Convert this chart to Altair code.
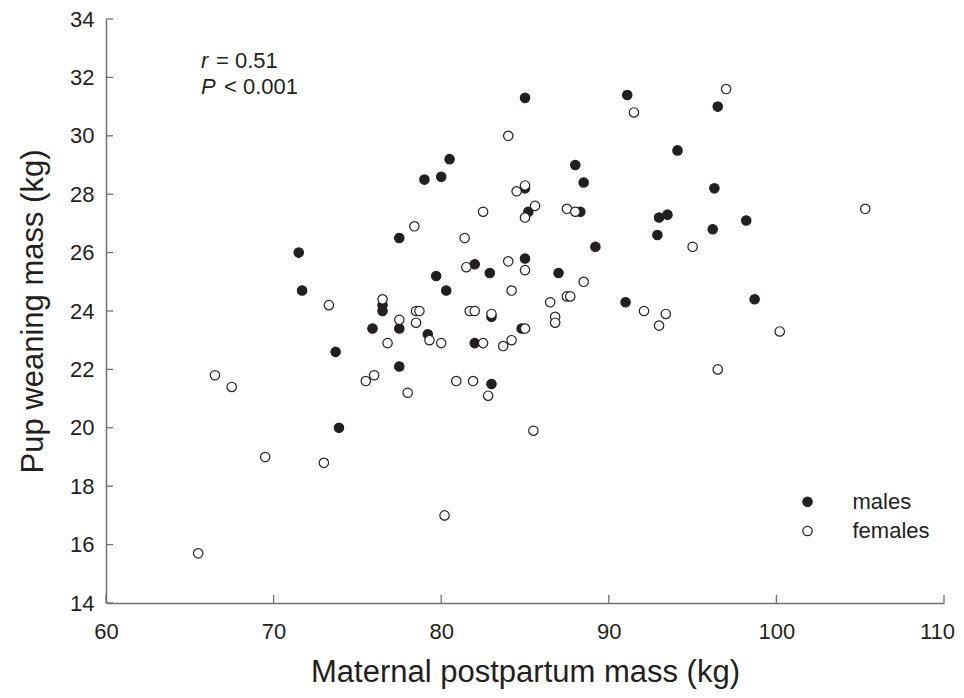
import altair as alt
import pandas as pd

# ---- data ----
males_x = [71.5, 71.7, 73.7, 73.9, 75.9, 76.5, 76.5, 77.5, 77.5, 77.5,
           79.0, 79.2, 79.7, 80.0, 80.3, 80.5, 82.0, 82.0, 82.9, 83.0,
           83.0, 84.8, 85.0, 85.0, 85.2, 85.0, 87.0, 88.0, 88.5, 88.3,
           89.2, 91.0, 91.1, 92.9, 93.0, 93.5, 94.1, 96.2, 96.3, 96.5,
           98.2, 98.7]
males_y = [26.0, 24.7, 22.6, 20.0, 23.4, 24.2, 24.0, 26.5, 23.4, 22.1,
           28.5, 23.2, 25.2, 28.6, 24.7, 29.2, 25.6, 22.9, 25.3, 23.8,
           21.5, 23.4, 31.3, 28.2, 27.4, 25.8, 25.3, 29.0, 28.4, 27.4,
           26.2, 24.3, 31.4, 26.6, 27.2, 27.3, 29.5, 26.8, 28.2, 31.0,
           27.1, 24.4]

females_x = [65.5, 66.5, 67.5, 69.5, 73.0, 73.3, 75.5, 76.0, 76.5, 76.8,
             77.5, 78.0, 78.4, 78.5, 78.7, 78.5, 79.3, 80.0, 80.2, 80.9,
             81.4, 81.5, 81.7, 82.0, 81.9, 82.5, 82.5, 82.8, 83.0, 83.7,
             84.0, 84.0, 84.2, 84.2, 84.5, 85.0, 85.0, 85.0, 85.0, 85.5,
             85.6, 86.5, 86.8, 86.8, 87.5, 87.5, 87.7, 88.0, 88.5, 91.5,
             92.1, 93.0, 93.4, 95.0, 96.5, 97.0, 100.2, 105.3]
females_y = [15.7, 21.8, 21.4, 19.0, 18.8, 24.2, 21.6, 21.8, 24.4, 22.9,
             23.7, 21.2, 26.9, 24.0, 24.0, 23.6, 23.0, 22.9, 17.0, 21.6,
             26.5, 25.5, 24.0, 24.0, 21.6, 27.4, 22.9, 21.1, 23.9, 22.8,
             30.0, 25.7, 24.7, 23.0, 28.1, 28.3, 27.2, 25.4, 23.4, 19.9,
             27.6, 24.3, 23.8, 23.6, 27.5, 24.5, 24.5, 27.4, 25.0, 30.8,
             24.0, 23.5, 23.9, 26.2, 22.0, 31.6, 23.3, 27.5]

groups = ["males", "females"]
x_ticks = [60, 70, 80, 90, 100, 110]
y_ticks = [14, 16, 18, 20, 22, 24, 26, 28, 30, 32, 34]
annot_symbols = ["r", "P"]
annot_values = ["= 0.51", "< 0.001"]

# ---- styling ----
W, H = 838, 584
FONT = "Liberation Sans"
INK = "#231f20"
AXIS = "#707070"

df = pd.DataFrame({
    "x": males_x + females_x,
    "y": males_y + females_y,
    "sex": [groups[0]] * len(males_x) + [groups[1]] * len(females_x),
})

xscale = alt.Scale(domain=[60, 110], nice=False, zero=False)
yscale = alt.Scale(domain=[14, 34], nice=False, zero=False)

xaxis = alt.Axis(
    values=x_ticks, title="Maternal postpartum mass (kg)", tickSize=0,
    labelPadding=18, labelFlush=False, labelOverlap=False,
    labelOffset=alt.condition("datum.value >= 110", alt.value(-7), alt.value(0)),
    titleX=W / 2, titleY=78, titleAlign="center", titleBaseline="alphabetic",
)
yaxis = alt.Axis(
    values=y_ticks, title="Pup weaning mass (kg)", tickSize=0,
    labelPadding=12, labelFlush=False, labelOverlap=False,
    titleX=-64, titleY=H / 2, titleAngle=270, titleAlign="center",
    titleBaseline="alphabetic",
)

points = alt.Chart(df).mark_point(
    shape="circle", filled=True, size=88, strokeWidth=1.2, stroke=INK, opacity=1
).encode(
    x=alt.X("x:Q", scale=xscale, axis=xaxis),
    y=alt.Y("y:Q", scale=yscale, axis=yaxis),
    fill=alt.Fill("sex:N", scale=alt.Scale(domain=groups, range=[INK, "#ffffff"]),
                  legend=alt.Legend(
                      title=None, orient="none", legendX=690.5, legendY=471.7,
                      padding=0, symbolType="circle", symbolSize=88,
                      symbolStrokeColor=INK, symbolStrokeWidth=1.2,
                      labelFont=FONT, labelFontSize=22, labelColor=INK,
                      labelOffset=34, rowPadding=7.3,
                  )),
)

yt = alt.Chart(pd.DataFrame({"y": y_ticks})).mark_rule(color=AXIS, strokeWidth=1.3).encode(
    y=alt.Y("y:Q", scale=yscale, axis=yaxis), x=alt.value(0), x2=alt.value(7)
)
xt = alt.Chart(pd.DataFrame({"x": x_ticks})).mark_rule(color=AXIS, strokeWidth=1.3).encode(
    x=alt.X("x:Q", scale=xscale, axis=xaxis), y=alt.value(H), y2=alt.value(H - 8)
)

ann_rows = [(0, 49.3), (1, 75.3)]
ann_layers = []
for i, yy in ann_rows:
    d = pd.DataFrame({"s": [annot_symbols[i]], "v": [annot_values[i]]})
    ann_layers.append(alt.Chart(d).mark_text(
        font=FONT, fontSize=22, fontStyle="italic", color=INK, align="left", baseline="alphabetic"
    ).encode(text="s:N", x=alt.value(95), y=alt.value(yy)))
    ann_layers.append(alt.Chart(d).mark_text(
        font=FONT, fontSize=22, color=INK, align="left", baseline="alphabetic"
    ).encode(text="v:N", x=alt.value(110 if i == 0 else 118), y=alt.value(yy)))

chart = alt.layer(points, yt, xt, *ann_layers).properties(
    width=W, height=H,
    autosize=alt.AutoSizeParams(type="none"),
    padding={"left": 98, "top": 11, "right": 12, "bottom": 87},
).configure_view(stroke=None).configure_axis(
    grid=False, domainColor=AXIS, domainWidth=1.5,
    labelFont=FONT, labelFontSize=22, labelColor=INK,
    titleFont=FONT, titleFontSize=31, titleFontWeight="normal", titleColor=INK,
)

chart.save("out.html", embed_options={"renderer": "svg", "actions": False})
